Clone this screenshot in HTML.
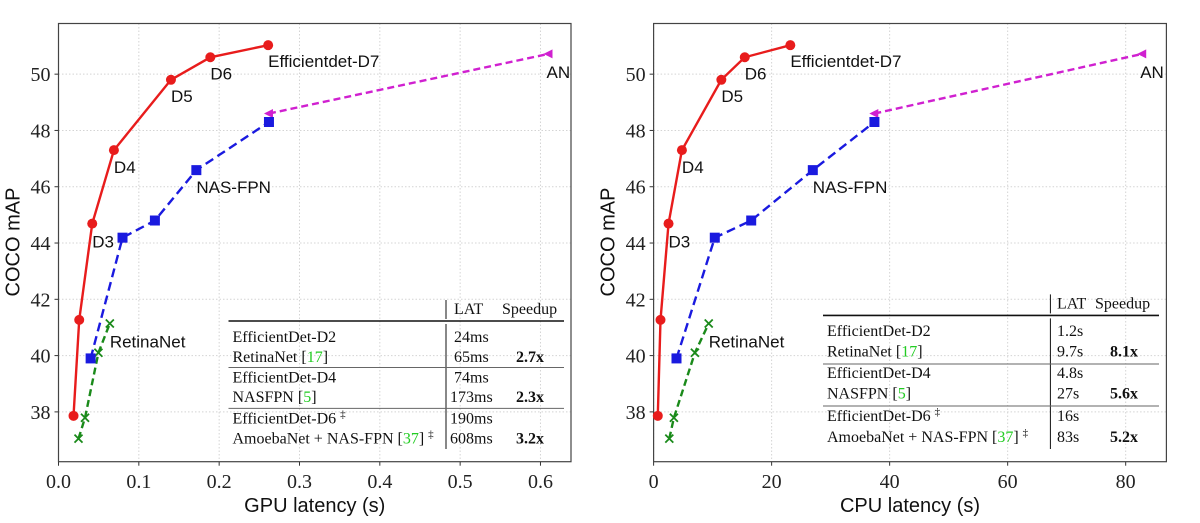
<!DOCTYPE html>
<html><head><meta charset="utf-8"><style>
html,body{margin:0;padding:0;background:#fff;}
svg{display:block;}
.tk{font-family:"Liberation Serif",serif;font-size:20px;fill:#222;}
.lb{font-family:"Liberation Sans",sans-serif;font-size:17px;fill:#111;}
.ax{font-family:"Liberation Sans",sans-serif;font-size:20px;fill:#111;}
.tb{font-family:"Liberation Serif",serif;font-size:16px;fill:#111;}
</style></head><body>
<svg id="c" width="1200" height="523" viewBox="0 0 1200 523" xmlns="http://www.w3.org/2000/svg"></svg>
<script>
const yTicks=[38,40,42,44,46,48,50];
const gpuTicks=[0.0,0.1,0.2,0.3,0.4,0.5,0.6];
const gpuTickLabels=["0.0","0.1","0.2","0.3","0.4","0.5","0.6"];
const cpuTicks=[0,20,40,60,80];
const cpuTickLabels=["0","20","40","60","80"];
const effMap=[37.86,41.27,44.69,47.30,49.80,50.60,51.03];
const effGpu=[0.0187,0.0258,0.042,0.069,0.140,0.189,0.261];
const effCpu=[0.71,1.17,2.53,4.80,11.48,15.45,23.17];
const nasMap=[39.9,44.19,44.8,46.59,48.30];
const nasGpu=[0.040,0.0797,0.120,0.1716,0.262];
const nasCpu=[3.88,10.37,16.54,26.98,37.42];
const amoMap=[48.6,50.72];
const amoGpu=[0.262,0.61];
const amoCpu=[37.4,82.8];
const retMap=[37.05,37.79,40.1,41.14];
const retGpu=[0.0249,0.033,0.0497,0.0639];
const retCpu=[2.66,3.44,7.0,9.34];
const effLabels=["D3","D4","D5","D6","Efficientdet-D7"];
const gpuTable=[["EfficientDet-D2","","24ms",""],["RetinaNet [","17","65ms","2.7x"],["EfficientDet-D4","","74ms",""],["NASFPN [","5","173ms","2.3x"],["EfficientDet-D6","","190ms",""],["AmoebaNet + NAS-FPN [","37","608ms","3.2x"]];
const cpuTable=[["EfficientDet-D2","","1.2s",""],["RetinaNet [","17","9.7s","8.1x"],["EfficientDet-D4","","4.8s",""],["NASFPN [","5","27s","5.6x"],["EfficientDet-D6","","16s",""],["AmoebaNet + NAS-FPN [","37","83s","5.2x"]];

const svg=document.getElementById('c');
const NS='http://www.w3.org/2000/svg';
function el(tag,attrs,parent,txt){const e=document.createElementNS(NS,tag);for(const k in attrs)e.setAttribute(k,attrs[k]);if(txt!==undefined)e.textContent=txt;(parent||svg).appendChild(e);return e;}

function chart(cfg){
  const g=el('g',{});
  
  
  const L=cfg.left,R=cfg.right,T=23.5,B=461.7;
  const yMin=36.23,yMax=51.8;
  const X=v=>L+(v-cfg.xMin)/(cfg.xMax-cfg.xMin)*(R-L);
  const Y=v=>T+(yMax-v)/(yMax-yMin)*(B-T);
  cfg.ticks.forEach((t,i)=>{
    const gl=el('line',{x1:X(t),x2:X(t),y1:T,y2:B,stroke:'#d4d4d4','stroke-width':1,'stroke-dasharray':'1.5,2'},g);
    
    
    const tl=el('text',{x:X(t),y:488,'text-anchor':'middle',class:'tk'},g,cfg.tickLabels[i]);
    
    
    el('line',{x1:X(t),x2:X(t),y1:B,y2:B+4,stroke:'#333'},g);
  });
  yTicks.forEach(t=>{
    const gl=el('line',{x1:L,x2:R,y1:Y(t),y2:Y(t),stroke:'#d4d4d4','stroke-width':1,'stroke-dasharray':'1.5,2'},g);
    
    
    const tl=el('text',{x:L-8,y:Y(t)+7,'text-anchor':'end',class:'tk'},g,String(t));
    
    
    el('line',{x1:L-4,x2:L,y1:Y(t),y2:Y(t),stroke:'#333'},g);
  });
  const fr=el('rect',{x:L,y:T,width:R-L,height:B-T,fill:'none',stroke:'#444','stroke-width':1.2},g);
  
  
  const xt=el('text',{x:(L+R)/2,y:512,'text-anchor':'middle',class:'ax'},g,cfg.xTitle);
  
  
  const yt=el('text',{x:0,y:0,'text-anchor':'middle',class:'ax',transform:`translate(${L-39},242) rotate(-90)`},g,'COCO mAP');
  
  
  function line(xs,ys,color,dash,name){
    const p=el('polyline',{points:xs.map((x,i)=>X(x)+','+Y(ys[i])).join(' '),fill:'none',stroke:color,'stroke-width':2.4,'stroke-dasharray':dash},g);
    
    
  }
  line(cfg.ret,retMap,'#1a8a1a','7,4','retinanet-line');
  cfg.ret.forEach((x,i)=>{const cx=X(x),cy=Y(retMap[i]);const m=el('path',{d:`M${cx-4},${cy-4}L${cx+4},${cy+4}M${cx-4},${cy+4}L${cx+4},${cy-4}`,stroke:'#1a8a1a','stroke-width':1.8},g);
    
    });
  line(cfg.amo,amoMap,'#d020d0','7,4','amoebanet-line');
  cfg.amo.forEach((x,i)=>{const cx=X(x),cy=Y(amoMap[i]);const m=el('path',{d:`M${cx-5},${cy}L${cx+4},${cy-4.5}L${cx+4},${cy+4.5}Z`,fill:'#d020d0'},g);
    
    });
  line(cfg.nas,nasMap,'#1a1adf','9,5','nas-fpn-line');
  cfg.nas.forEach((x,i)=>{const m=el('rect',{x:X(x)-5,y:Y(nasMap[i])-5,width:10,height:10,fill:'#1a1adf'},g);
    
    });
  line(cfg.eff,effMap,'#e81c1c','','efficientdet-line');
  cfg.eff.forEach((x,i)=>{const m=el('circle',{cx:X(x),cy:Y(effMap[i]),r:5,fill:'#e81c1c'},g);
    
    });
  const lbs=[[cfg.eff[2],effMap[2],0,24,effLabels[0]],[cfg.eff[3],effMap[3],0,23,effLabels[1]],[cfg.eff[4],effMap[4],0,22,effLabels[2]],[cfg.eff[5],effMap[5],0,22,effLabels[3]],[cfg.eff[6],effMap[6],0,22,effLabels[4]],[cfg.nas[3],nasMap[3],0,23,'NAS-FPN'],[cfg.ret[3],retMap[3],0,24,'RetinaNet'],[cfg.amo[1],amoMap[1],-2,24,'AN']];
  lbs.forEach(l=>{const t=el('text',{x:X(l[0])+l[2],y:Y(l[1])+l[3],class:'lb'},g,l[4]);
    
    });
  const tb=cfg.tb;
  const tg=el('g',{},g);
  
  
  el('line',{x1:tb.x0,x2:tb.x1,y1:tb.top,y2:tb.top,stroke:'#111','stroke-width':1.6},tg);
  el('line',{x1:tb.div,x2:tb.div,y1:tb.top-21,y2:tb.top-2,stroke:'#111','stroke-width':1},tg);
  el('line',{x1:tb.div,x2:tb.div,y1:tb.top+3,y2:449,stroke:'#111','stroke-width':1},tg);
  tb.seps.forEach(s=>el('line',{x1:tb.x0,x2:tb.x1,y1:s,y2:s,stroke:'#666','stroke-width':1},tg));
  el('text',{x:tb.lat,y:tb.top-7,class:'tb'},tg,'LAT');
  el('text',{x:tb.sp,y:tb.top-7,class:'tb'},tg,'Speedup');
  cfg.rows.forEach((r,i)=>{
    const y=tb.rows[i];
    const t=el('text',{x:tb.x0+4,y:y,class:'tb'},tg);
    
    
    el('tspan',{},t,r[0]);
    if(r[1]){el('tspan',{fill:'#22cc22'},t,r[1]);el('tspan',{},t,']');}
    if(i>=4)el('tspan',{dx:4,dy:-6,'font-size':11},t,'‡');
    el('text',{x:tb.lat-(r[2].length>4?4:0),y:y,class:'tb'},tg,r[2]);
    if(r[3])el('text',{x:tb.bold,y:y,class:'tb','font-weight':'bold'},tg,r[3]);
  });
}
chart({name:'gpu-latency-chart',left:58.5,right:571,xMin:0,xMax:0.638,ticks:gpuTicks,tickLabels:gpuTickLabels,xTitle:'GPU latency (s)',
  eff:effGpu,nas:nasGpu,amo:amoGpu,ret:retGpu,rows:gpuTable,
  tb:{x0:228.5,x1:564,top:321,div:446,lat:454,sp:502,bold:516,seps:[367.5,408.4],rows:[342,362,382.5,402,423.5,443.6]}});
chart({name:'cpu-latency-chart',left:653.6,right:1166.4,xMin:0,xMax:86.9,ticks:cpuTicks,tickLabels:cpuTickLabels,xTitle:'CPU latency (s)',
  eff:effCpu,nas:nasCpu,amo:amoCpu,ret:retCpu,rows:cpuTable,
  tb:{x0:823,x1:1159,top:315.4,div:1050.4,lat:1057,sp:1095,bold:1110,seps:[364,406],rows:[336,356.7,378,398.7,421,442]}});
</script>
</body></html>
